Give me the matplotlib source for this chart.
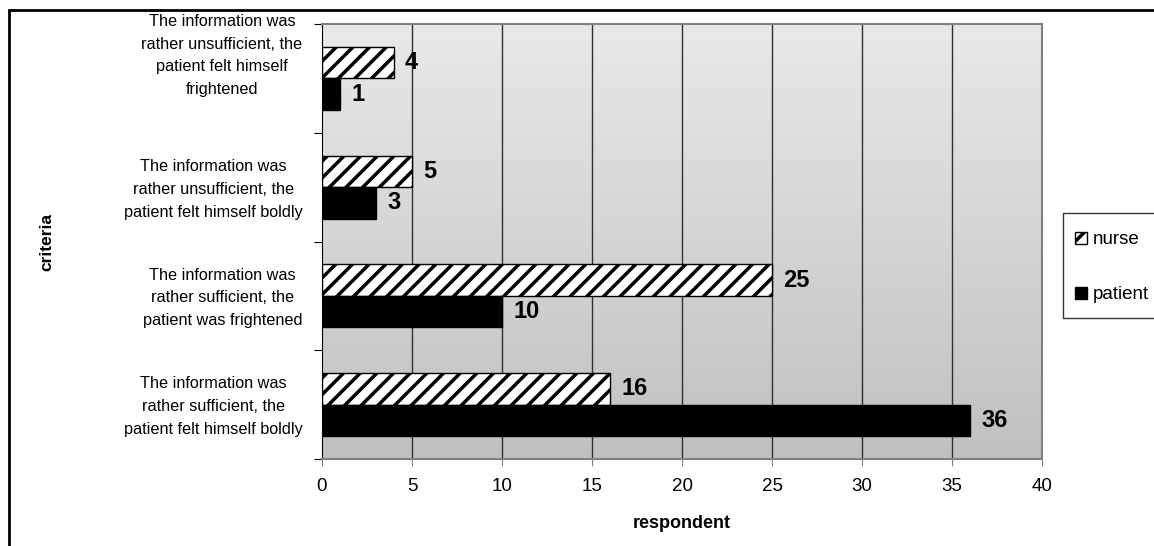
import numpy as np
import matplotlib
matplotlib.use('Agg')
import matplotlib.pyplot as plt
from matplotlib.patches import Rectangle
from matplotlib.container import BarContainer
from matplotlib.legend_handler import HandlerPatch, update_from_first_child

plt.rcParams['font.family'] = ['Liberation Sans', 'DejaVu Sans']
plt.rcParams['hatch.linewidth'] = 2.5

criteria = [
    "The information was\nrather sufficient, the\npatient felt himself boldly",
    "The information was\nrather sufficient, the\npatient was frightened",
    "The information was\nrather unsufficient, the\npatient felt himself boldly",
    "The information was\nrather unsufficient, the\npatient felt himself\nfrightened",
]
nurse = [16, 25, 5, 4]
patient = [36, 10, 3, 1]
x_ticks = [0, 5, 10, 15, 20, 25, 30, 35, 40]


def square_patch(legend, orig_handle, xdescent, ydescent, width, height, fontsize):
    # small square swatch centred in a tall legend row
    return Rectangle((-xdescent, -ydescent + (height - width) / 2), width, width)


def main():
    fig = plt.figure(figsize=(11.54, 5.46), dpi=100)
    ax = fig.add_axes([0.279, 0.1593, 0.624, 0.7967])

    y = np.arange(len(criteria))
    h = 0.29

    # grey gradient behind the bars
    grad = np.linspace(0, 1, 256).reshape(-1, 1)
    ax.imshow(grad, extent=[0, 40, -0.5, 3.5], aspect='auto', origin='lower',
              cmap=matplotlib.colors.LinearSegmentedColormap.from_list(
                  'bg', ['#c0c0c0', '#e9e9e9']), zorder=0)

    for xv in x_ticks[1:-1]:
        ax.axvline(xv, color='#303030', lw=1, zorder=1)

    b_nurse = ax.barh(y + h / 2, nurse, height=h, color='white', edgecolor='black',
                      hatch='//', linewidth=1, label='nurse', zorder=2)
    b_pat = ax.barh(y - h / 2, patient, height=h, color='black', edgecolor='black',
                    linewidth=1, label='patient', zorder=2)
    ax.bar_label(b_nurse, padding=8, fontsize=17, fontweight='bold')
    ax.bar_label(b_pat, padding=8, fontsize=17, fontweight='bold')

    ax.set_xlim(0, 40)
    ax.set_ylim(-0.5, 3.5)
    ax.set_xticks(x_ticks)
    ax.tick_params(axis='x', labelsize=13.5, length=5, color='#808080', pad=9)

    # ticks sit between categories; the labels are placed as text
    ax.set_yticks(np.arange(-0.5, 4, 1))
    ax.set_yticklabels([])
    ax.tick_params(axis='y', length=6, color='black')
    for yi, text in zip(y, criteria):
        # four-line label is pushed up by one line
        dy = 16.5 if text.count('\n') == 3 else -1.5
        ax.annotate(text, xy=(0, yi), xycoords=('axes fraction', 'data'),
                    xytext=(-14, dy), textcoords='offset points',
                    ha='right', va='center', multialignment='center',
                    fontsize=11.7, linespacing=1.65)

    ax.spines['left'].set_color('black')
    for side in ('top', 'right', 'bottom'):
        ax.spines[side].set_color('#808080')
        ax.spines[side].set_linewidth(1.5)

    ax.set_xlabel('respondent', fontsize=13, fontweight='bold', labelpad=14)
    fig.text(0.041, 0.557, 'criteria', rotation=90, fontsize=12.5, fontweight='bold',
             ha='center', va='center')

    handler = HandlerPatch(patch_func=square_patch, update_func=update_from_first_child)
    leg = fig.legend(handles=[b_nurse, b_pat], loc='upper left',
                     bbox_to_anchor=(0.921, 0.61), fontsize=13.5, frameon=True,
                     fancybox=False, edgecolor='black', labelspacing=1.6,
                     handlelength=0.65, handleheight=1.7, handletextpad=0.3,
                     borderpad=0.65, borderaxespad=0,
                     handler_map={BarContainer: handler})
    leg.get_frame().set_linewidth(1)

    # outer frame, running off the right and bottom edges
    fig.patches.append(Rectangle((0.008, -0.1), 1.2, 1.082, transform=fig.transFigure,
                                 fill=False, edgecolor='black', lw=2))

    fig.savefig('out.png', dpi=100)


if __name__ == '__main__':
    main()
